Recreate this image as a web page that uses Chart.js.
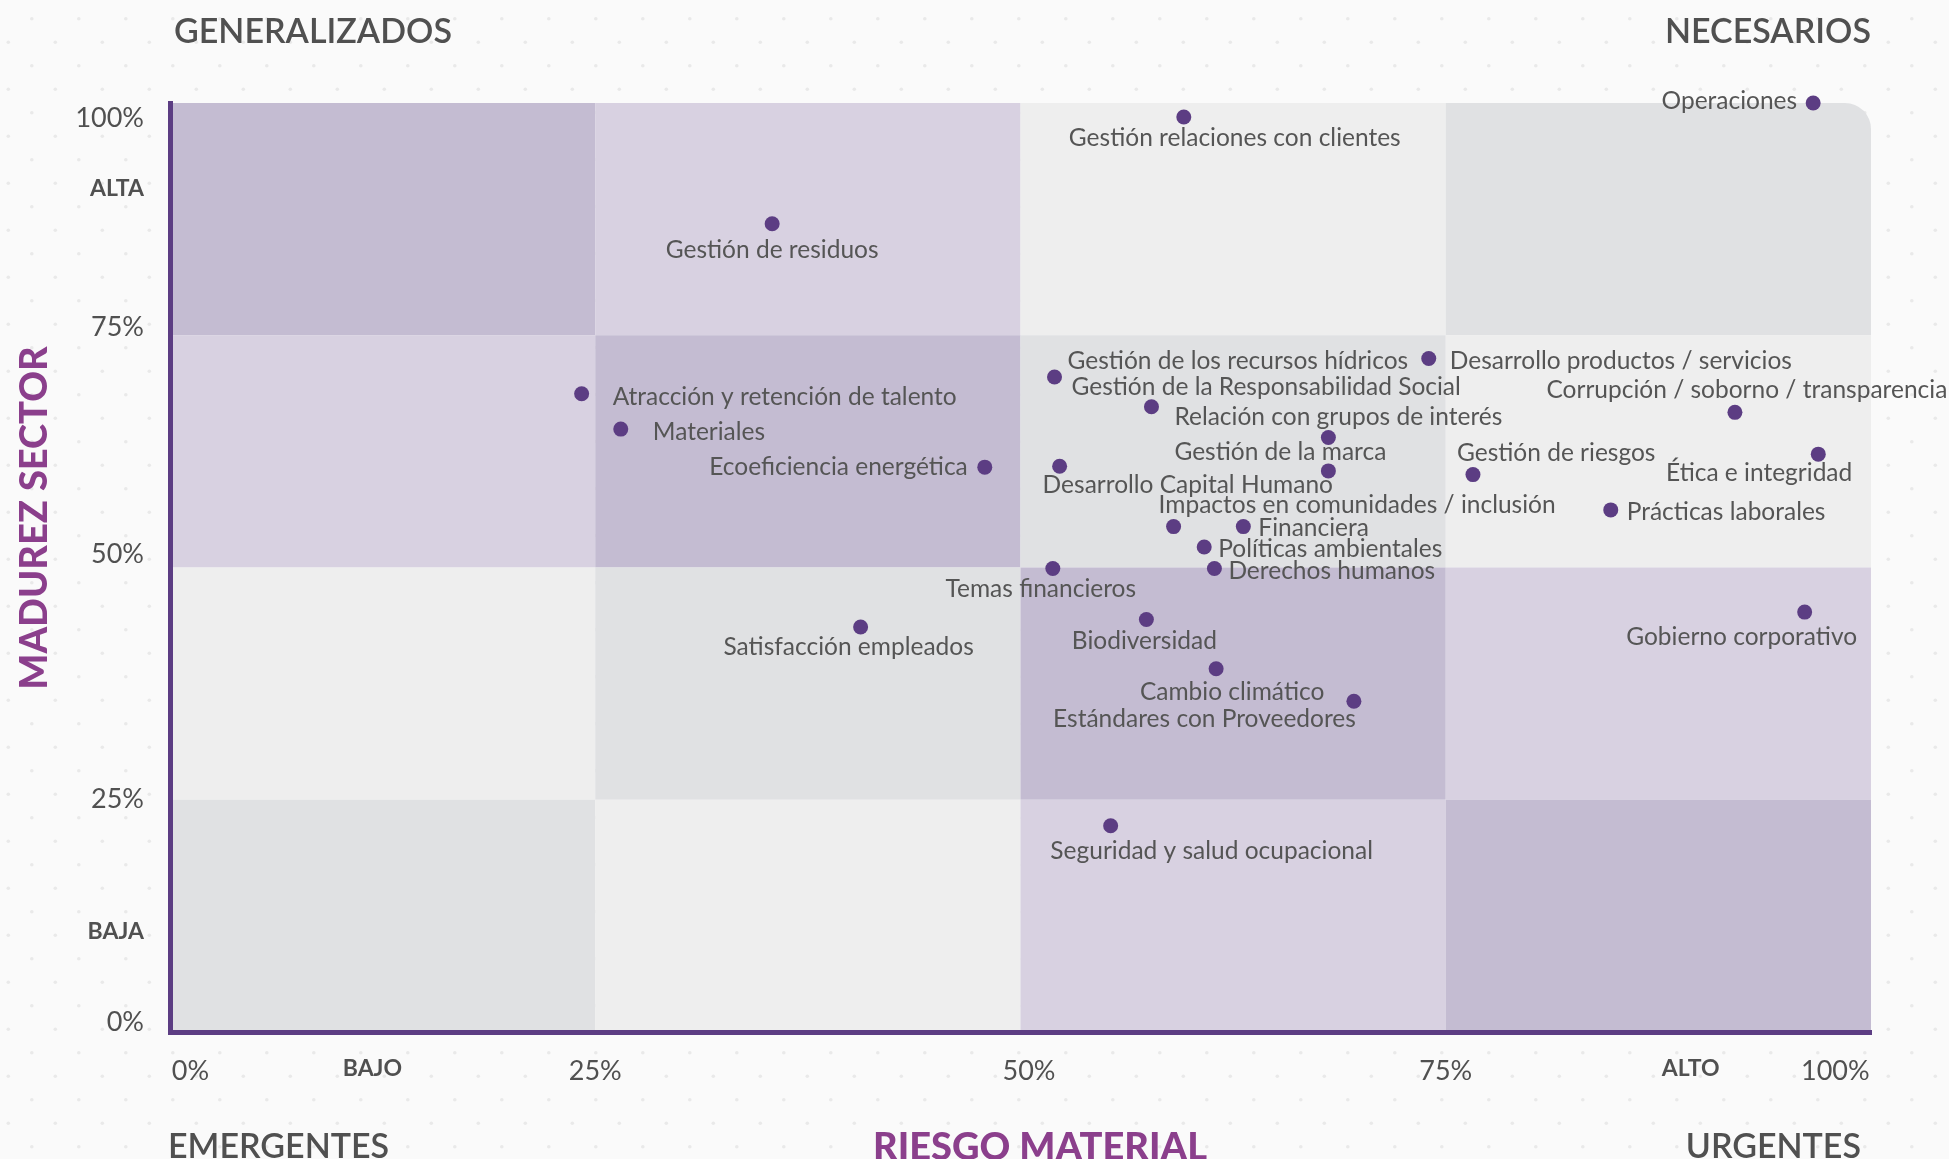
<!DOCTYPE html>
<html lang="es">
<head>
<meta charset="utf-8">
<title>Matriz de materialidad</title>
<script src="https://cdn.jsdelivr.net/npm/chart.js@4.4.1/dist/chart.umd.min.js"></script>
<style>
  html, body { margin: 0; padding: 0; background: #fafafa; }
  canvas { display: block; }
</style>
</head>
<body>
<canvas id="matriz" width="1949" height="1159"></canvas>
<script>
// temas materiales: riesgo material (x) y madurez del sector (y), en %
const temas = [
  'Operaciones', 'Gestión relaciones con clientes', 'Gestión de residuos',
  'Desarrollo productos / servicios', 'Gestión de los recursos hídricos',
  'Gestión de la Responsabilidad Social', 'Corrupción / soborno / transparencia',
  'Relación con grupos de interés', 'Atracción y retención de talento', 'Materiales',
  'Gestión de la marca', 'Ecoeficiencia energética', 'Desarrollo Capital Humano',
  'Gestión de riesgos', 'Ética e integridad', 'Impactos en comunidades / inclusión',
  'Prácticas laborales', 'Financiera', 'Políticas ambientales', 'Derechos humanos',
  'Temas financieros', 'Gobierno corporativo', 'Satisfacción empleados',
  'Biodiversidad', 'Cambio climático', 'Estándares con Proveedores',
  'Seguridad y salud ocupacional'
];
const riesgo = [96.6, 59.6, 35.4, 74.0, 52.0, 57.7, 92.0, 68.1, 24.2, 26.5, 68.1, 47.9, 52.3,
  76.6, 96.9, 59.0, 84.7, 63.1, 60.8, 61.4, 51.9, 96.1, 40.6, 57.4, 61.5, 69.6, 55.3];
const madurez = [100, 98.5, 87.0, 72.5, 70.5, 67.3, 66.7, 64.0, 68.7, 64.9, 60.4, 60.8, 60.9,
  60.0, 62.2, 54.4, 56.2, 54.4, 52.2, 49.9, 49.9, 45.2, 43.6, 44.4, 39.1, 35.6, 22.2];

// ejes
const xTicks = [1.2, 11.9, 25, 50.5, 75, 89.4, 97.9];
const xTickLabels = ['0%', 'BAJO', '25%', '50%', '75%', 'ALTO', '100%'];
const yTicks = [1, 10.8, 25, 51.4, 75.9, 90.8, 98.3];
const yTickLabels = ['0%', 'BAJA', '25%', '50%', '75%', 'ALTA', '100%'];
const cortes = [0, 25, 50, 75, 100];

// celdas de la matriz, fila superior primero
const celdas = [
  ['oscuro', 'claro', 'grisClaro', 'gris'],
  ['claro', 'oscuro', 'gris', 'grisClaro'],
  ['grisClaro', 'gris', 'oscuro', 'claro'],
  ['gris', 'grisClaro', 'claro', 'oscuro']
];

// estilos
const colores = { oscuro: '#c4bcd2', claro: '#d8d1e1', gris: '#e0e1e3', grisClaro: '#eeeeee' };
const morado = '#5c3d83';
const fuente = 'Lato, "Open Sans", sans-serif';
const textoGris = '#555555';
// colocacion de cada etiqueta respecto a su punto: alineacion, dx, dy (px)
const etqAlin = ['r', 'c', 'c', 'l', 'l', 'l', 'c', 'c', 'l', 'l', 'c', 'r', 'l',
  'l', 'r', 'l', 'l', 'l', 'l', 'l', 'c', 'c', 'c', 'c', 'c', 'r', 'c'];
const etqDx = [-16, 51, 0, 21, 13, -80, 12, 10, 31, 32, -48, -17, -17,
  -16, 34, -15, 16, 15, 14, 14, -12, -63, -12, -2, 16, 2, 101];
const etqDy = [-2, 21, 26, 3, -16, -20, -22, -20, 3, 3, -19, 0, 19,
  -22, 19, -22, 2, 1, 2, 3, 21, 25, 20, 22, 23, 18, 25];

const negritas = ['ALTA', 'BAJA', 'ALTO', 'BAJO'];
const fuenteTick = c => negritas.includes(c.tick && c.tick.label)
  ? { family: fuente, size: 23, weight: '700' }
  : { family: fuente, size: 27, weight: '400' };

const fondo = {
  id: 'fondo',
  beforeDraw(chart) {
    const { ctx, chartArea: a, scales: { x, y } } = chart;
    ctx.save();
    // puntos del fondo
    ctx.fillStyle = '#e9e9e9';
    for (let r = 0; 18.8 + 23.5 * r < chart.height + 5; r++) {
      const py = 18.8 + 23.5 * r;
      for (let px = r % 2 ? 8.3 : 31.8; px < chart.width + 5; px += 47) {
        ctx.beginPath();
        ctx.arc(px, py, 1.8, 0, Math.PI * 2);
        ctx.fill();
      }
    }
    ctx.beginPath();
    ctx.roundRect(a.left, a.top, a.right - a.left, a.bottom - a.top, [0, 26, 0, 0]);
    ctx.clip();
    celdas.forEach((fila, r) => fila.forEach((c, k) => {
      const x0 = x.getPixelForValue(cortes[k]);
      const x1 = x.getPixelForValue(cortes[k + 1]);
      const y0 = y.getPixelForValue(cortes[4 - r]);
      const y1 = y.getPixelForValue(cortes[3 - r]);
      ctx.fillStyle = colores[c];
      ctx.fillRect(x0, y0, x1 - x0, y1 - y0);
    }));
    ctx.restore();
  }
};

const etiquetas = {
  id: 'etiquetas',
  afterDatasetsDraw(chart) {
    const { ctx } = chart;
    const meta = chart.getDatasetMeta(0);
    ctx.save();
    ctx.font = '400 24.5px ' + fuente;
    ctx.fillStyle = textoGris;
    ctx.textBaseline = 'middle';
    meta.data.forEach((pt, i) => {
      ctx.textAlign = etqAlin[i] === 'l' ? 'left' : etqAlin[i] === 'r' ? 'right' : 'center';
      ctx.fillText(temas[i], pt.x + etqDx[i], pt.y + etqDy[i]);
    });
    ctx.restore();
  }
};

const titulos = {
  id: 'titulos',
  afterDraw(chart) {
    const { ctx, chartArea: a } = chart;
    ctx.save();
    ctx.textBaseline = 'alphabetic';
    ctx.fillStyle = '#505050';
    ctx.font = '600 34px ' + fuente;
    ctx.textAlign = 'left';
    ctx.fillText('GENERALIZADOS', a.left + 4, 43);
    ctx.fillText('EMERGENTES', a.left - 2, 1158);
    ctx.textAlign = 'right';
    ctx.fillText('NECESARIOS', a.right, 43);
    ctx.fillText('URGENTES', a.right - 10, 1158);
    ctx.fillStyle = '#8b3f8c';
    ctx.font = '900 38px ' + fuente;
    ctx.textAlign = 'center';
    ctx.fillText('RIESGO MATERIAL', 1040, 1160);
    ctx.translate(35, 518);
    ctx.rotate(-Math.PI / 2);
    ctx.textBaseline = 'middle';
    ctx.fillText('MADUREZ SECTOR', 0, 0);
    ctx.restore();
  }
};

new Chart(document.getElementById('matriz'), {
  type: 'scatter',
  data: {
    datasets: [{
      data: temas.map((t, i) => ({ x: riesgo[i], y: madurez[i] })),
      backgroundColor: morado,
      borderWidth: 0,
      pointRadius: 7.5,
      pointHoverRadius: 7.5,
      clip: false
    }]
  },
  options: {
    responsive: false,
    animation: false,
    devicePixelRatio: 1,
    events: [],
    layout: { padding: { top: 103, right: 78, bottom: 0, left: 0 } },
    plugins: { legend: { display: false }, tooltip: { enabled: false } },
    scales: {
      x: {
        type: 'linear', min: 0, max: 100,
        afterFit: s => { s.height = 127; },
        afterBuildTicks: s => { s.ticks = xTicks.map(v => ({ value: v })); },
        grid: { display: false, drawTicks: false },
        border: { color: morado, width: 5, z: 1 },
        ticks: {
          autoSkip: false, maxRotation: 0, minRotation: 0, padding: 23,
          color: '#505050', font: fuenteTick,
          callback: (v, i) => xTickLabels[i]
        }
      },
      y: {
        type: 'linear', min: 0, max: 100,
        afterFit: s => { s.width = 170; },
        afterBuildTicks: s => { s.ticks = yTicks.map(v => ({ value: v })); },
        grid: { display: false, drawTicks: false },
        border: { color: morado, width: 5, z: 1 },
        ticks: {
          autoSkip: false, padding: 26,
          color: '#505050', font: fuenteTick,
          callback: (v, i) => yTickLabels[i]
        }
      }
    }
  },
  plugins: [fondo, etiquetas, titulos]
});
</script>
</body>
</html>
